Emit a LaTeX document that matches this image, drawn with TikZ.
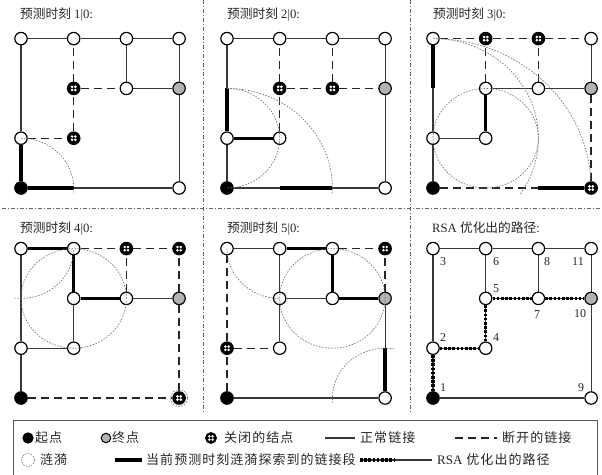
\documentclass[tikz,border=0pt]{standalone}
\usepackage{fontspec}
\setmainfont{Liberation Serif}
\newfontfamily\cjk{Noto Sans CJK SC}
\newfontfamily\cjkl[LetterSpace=8]{Noto Sans CJK SC}
\usetikzlibrary{backgrounds,calc}
\begin{document}
\begin{tikzpicture}[x=1pt,y=-1pt,
 op/.style={circle,draw=black,fill=white,line width=1.2pt,minimum size=12.4pt,inner sep=0pt},
 st/.style={op,fill=black},
 en/.style={op,fill=black!30},
 cl/.style={op,fill=black,path picture={\foreach \a in {45,135,225,315}{\fill[white] ($(path picture bounding box.center)+(\a:2.3pt)$) circle[radius=1.45pt];}}},
 nm/.style={line width=1.15pt,draw=black!78},
 bk/.style={line width=1.25pt,draw=black!85,dash pattern=on 8pt off 5pt},
 hot/.style={line width=3.3pt,draw=black},
 rip/.style={line width=0.65pt,draw=black!55,dash pattern=on 1.6pt off 1.4pt},
 rsa/.style={line width=3.4pt,draw=black,dash pattern=on 2.6pt off 1.6pt},
 sep/.style={line width=0.6pt,draw=black!60,dash pattern=on 4pt off 2pt on 1pt off 2pt},
 ttl/.style={anchor=west,inner sep=0pt,text=black!85,font=\fontsize{12.7}{14}\selectfont},
 lab/.style={inner sep=0pt,text=black!85,font=\fontsize{12}{14}\selectfont},
 leg/.style={anchor=west,inner sep=0pt,text=black!85,font=\fontsize{13}{15}\selectfont\cjkl},
 panel/.style={x=52.7pt,y=49.8pt}
]
\useasboundingbox (0,0) rectangle (602,474);

% separators
\coordinate (s1a) at (203,0); \coordinate (s1b) at (203,412);
\coordinate (s2a) at (410,0); \coordinate (s2b) at (410,412);
\coordinate (s3a) at (2,208); \coordinate (s3b) at (600,208);
\draw[sep] (s1a) -- (s1b);
\draw[sep] (s2a) -- (s2b);
\draw[sep] (s3a) -- (s3b);

% titles
\node[ttl] (t1) at (20,15) {{\cjk 预测时刻} 1|0:};
\node[ttl] (t2) at (227,15) {{\cjk 预测时刻} 2|0:};
\node[ttl] (t3) at (433,15) {{\cjk 预测时刻} 3|0:};
\node[ttl] (t4) at (20,228) {{\cjk 预测时刻} 4|0:};
\node[ttl] (t5) at (227,228) {{\cjk 预测时刻} 5|0:};
\node[ttl] (t6) at (432,228) {RSA {\cjk 优化出的路径}:};

% ---------- panel 1 ----------
\begin{scope}[shift={(21pt,-188pt)},panel]
\foreach \i/\u/\v/\t in {1/0/0/st,2/0/1/op,3/0/3/op,4/1/1/cl,5/1/2/cl,6/1/3/op,7/2/2/op,8/2/3/op,9/3/0/op,10/3/2/en,11/3/3/op}
  \node[\t] (a\i) at (\u,\v) {};
\coordinate (ah1) at (1,0);
\begin{scope}[on background layer]
\foreach \p/\q in {1/2,2/3,1/9,3/6,6/8,8/11,7/8,7/10,10/11,9/10} \draw[nm] (a\p) -- (a\q);
\foreach \p/\q in {2/4,4/5,5/6,5/7} \draw[bk] (a\p) -- (a\q);
\draw[hot] (a1) -- (a2);
\draw[hot] (a1) -- (ah1);
\end{scope}
\draw[rip] (a1) ++(90:1) arc[start angle=90,end angle=-5,radius=1];
\end{scope}

% ---------- panel 2 ----------
\begin{scope}[shift={(227pt,-188pt)},panel]
\foreach \i/\u/\v/\t in {1/0/0/st,2/0/1/op,3/0/3/op,4/1/1/op,5/1/2/cl,6/1/3/op,7/2/2/cl,8/2/3/op,9/3/0/op,10/3/2/en,11/3/3/op}
  \node[\t] (b\i) at (\u,\v) {};
\coordinate (bh1) at (0,2);
\coordinate (bh2) at (1,0);
\coordinate (bh3) at (2,0);
\begin{scope}[on background layer]
\foreach \p/\q in {1/2,2/3,1/9,2/4,3/6,6/8,8/11,10/11,9/10} \draw[nm] (b\p) -- (b\q);
\foreach \p/\q in {4/5,5/6,5/7,7/8,7/10} \draw[bk] (b\p) -- (b\q);
\draw[hot] (b2) -- (bh1);
\draw[hot] (b2) -- (b4);
\draw[hot] (bh2) -- (bh3);
\end{scope}
\draw[rip] (b1) ++(90:2) arc[start angle=90,end angle=-3,radius=2];
\draw[rip] (b2) ++(90:1) arc[start angle=90,end angle=-90,radius=1];
\end{scope}

% ---------- panel 3 ----------
\begin{scope}[shift={(433pt,-188pt)},panel]
\foreach \i/\u/\v/\t in {1/0/0/st,2/0/1/op,3/0/3/op,4/1/1/op,5/1/2/op,6/1/3/cl,7/2/2/op,8/2/3/cl,9/3/0/cl,10/3/2/en,11/3/3/op}
  \node[\t] (c\i) at (\u,\v) {};
\coordinate (ch1) at (0,2);
\coordinate (ch2) at (2,0);
\begin{scope}[on background layer]
\foreach \p/\q in {1/2,2/3,2/4,4/5,5/7,7/10,10/11} \draw[nm] (c\p) -- (c\q);
\foreach \p/\q in {3/6,6/8,8/11,5/6,7/8,9/10,1/9} \draw[bk] (c\p) -- (c\q);
\draw[hot] (c3) -- (ch1);
\draw[hot] (c4) -- (c5);
\draw[hot] (ch2) -- (c9);
\end{scope}
\draw[rip] (c4) circle[radius=1];
\draw[rip] (c1) ++(90:3) arc[start angle=90,end angle=2,radius=3];
\draw[rip] (c2) ++(90:2) arc[start angle=90,end angle=-34,radius=2];
\end{scope}

% ---------- panel 4 ----------
\begin{scope}[shift={(21pt,-398pt)},panel]
\foreach \i/\u/\v/\t in {1/0/0/st,2/0/1/op,3/0/3/op,4/1/1/op,5/1/2/op,6/1/3/op,7/2/2/op,8/2/3/cl,9/3/0/cl,10/3/2/en,11/3/3/cl}
  \node[\t] (d\i) at (\u,\v) {};
\begin{scope}[on background layer]
\foreach \p/\q in {1/2,2/3,2/4,4/5,7/10} \draw[nm] (d\p) -- (d\q);
\foreach \p/\q in {6/8,8/11,10/11,9/10,1/9,7/8} \draw[bk] (d\p) -- (d\q);
\foreach \p/\q in {3/6,5/6,5/7} \draw[hot] (d\p) -- (d\q);
\end{scope}
\draw[rip] (d5) circle[radius=1];
\draw[rip] (d3) ++(263:1) arc[start angle=263,end angle=360,radius=1];
\draw[rip] (d9) circle[radius=8.5pt];
\end{scope}

% ---------- panel 5 ----------
\begin{scope}[shift={(227pt,-398pt)},panel]
\foreach \i/\u/\v/\t in {1/0/0/st,2/0/1/cl,3/0/3/op,4/1/1/op,5/1/2/op,6/1/3/op,7/2/2/op,8/2/3/op,9/3/0/op,10/3/2/en,11/3/3/cl}
  \node[\t] (e\i) at (\u,\v) {};
\coordinate (eh1) at (3,1);
\begin{scope}[on background layer]
\foreach \p/\q in {1/9,9/10,3/6,5/6,4/5,5/7} \draw[nm] (e\p) -- (e\q);
\foreach \p/\q in {1/2,2/3,2/4,8/11,10/11} \draw[bk] (e\p) -- (e\q);
\foreach \p/\q in {6/8,7/8,7/10} \draw[hot] (e\p) -- (e\q);
\draw[hot] (eh1) -- (e9);
\end{scope}
\draw[rip] (e7) circle[radius=1];
\draw[rip] (e6) ++(180:1) arc[start angle=180,end angle=270,radius=1];
\draw[rip] (e9) ++(80:1) arc[start angle=80,end angle=186,radius=1];
\end{scope}

% ---------- panel 6 ----------
\begin{scope}[shift={(433pt,-398pt)},panel]
\foreach \i/\u/\v/\t in {1/0/0/st,2/0/1/op,3/0/3/op,4/1/1/op,5/1/2/op,6/1/3/op,7/2/2/op,8/2/3/op,9/3/0/op,10/3/2/en,11/3/3/op}
  \node[\t] (f\i) at (\u,\v) {};
\begin{scope}[on background layer]
\foreach \p/\q in {1/2,2/3,1/9,2/4,4/5,5/6,3/6,6/8,8/11,5/7,7/8,7/10,10/11,9/10} \draw[nm] (f\p) -- (f\q);
\foreach \p/\q in {1/2,2/4,4/5,5/7,7/10} \draw[rsa] (f\p) -- (f\q);
\end{scope}
\end{scope}
% path labels
\node[lab] (n1) at (443,388) {1};
\node[lab] (n2) at (443,338) {2};
\node[lab] (n3) at (443,262) {3};
\node[lab] (n4) at (496,338) {4};
\node[lab] (n5) at (496,289) {5};
\node[lab] (n6) at (496,262) {6};
\node[lab] (n7) at (537,315) {7};
\node[lab] (n8) at (547,262) {8};
\node[lab] (n9) at (581,388) {9};
\node[lab] (n10) at (580,314) {10};
\node[lab] (n11) at (578,262) {11};

% ---------- legend ----------
\coordinate (bx1) at (13,476); \coordinate (bx2) at (13,420);
\coordinate (bx3) at (597,420); \coordinate (bx4) at (597,476);
\draw[line width=0.7pt,black!65] (bx1) -- (bx2) -- (bx3) -- (bx4);

\node[st,minimum size=10pt] (ls) at (28,438) {};
\node[leg] (lst) at (35,438) {起点};
\node[en,minimum size=9.5pt,line width=1pt] (le) at (106,438) {};
\node[leg] (let) at (112,438) {终点};
\node[cl,minimum size=11pt,line width=0.8pt] (lc) at (211,438) {};
\node[leg] (lct) at (224,438) {关闭的结点};
\coordinate (ln1) at (325,438); \coordinate (ln2) at (355,438);
\draw[nm] (ln1) -- (ln2);
\node[leg] (lnt) at (360,438) {正常链接};
\coordinate (lb1) at (455,438); \coordinate (lb2) at (497,438);
\draw[bk,dash pattern=on 8pt off 5pt] (lb1) -- (lb2);
\node[leg] (lbt) at (502,438) {断开的链接};

\node[circle,draw=black!55,dash pattern=on 1.5pt off 1.3pt,line width=0.6pt,minimum size=13pt,inner sep=0pt] (lr) at (28,460) {};
\node[leg] (lrt) at (40,460) {涟漪};
\coordinate (lh1) at (115,460); \coordinate (lh2) at (142,460);
\draw[hot] (lh1) -- (lh2);
\node[leg] (lht) at (146,460) {当前预测时刻涟漪探索到的链接段};
\coordinate (lq1) at (360,460); \coordinate (lq2) at (395,460); \coordinate (lq3) at (432,460);
\draw[nm] (lq1) -- (lq3);
\draw[rsa] (lq1) -- (lq2);
\node[leg] (lqt) at (437,460) {{\rmfamily RSA} 优化出的路径};
\end{tikzpicture}
\end{document}
